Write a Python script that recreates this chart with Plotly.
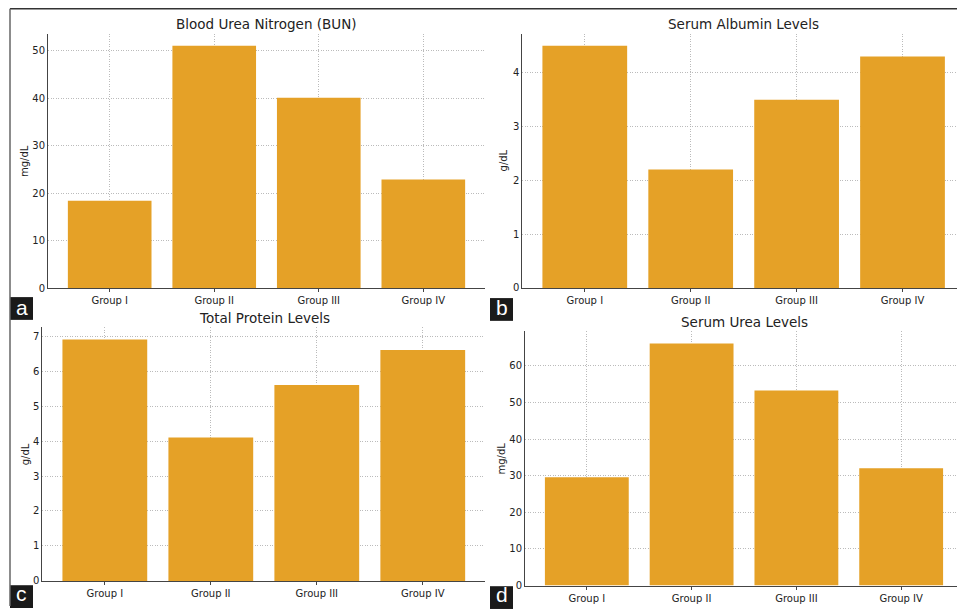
import plotly.graph_objects as go

categories = ["Group I", "Group II", "Group III", "Group IV"]
bun_values = [18.4, 51.0, 40.1, 22.9]
albumin_values = [4.5, 2.2, 3.5, 4.3]
protein_values = [6.9, 4.1, 5.6, 6.6]
urea_values = [29.6, 66.1, 53.3, 32.0]

titles = ["Blood Urea Nitrogen (BUN)", "Serum Albumin Levels", "Total Protein Levels", "Serum Urea Levels"]
ylabels = ["mg/dL", "g/dL", "g/dL", "mg/dL"]
letters = ["a", "b", "c", "d"]
ytick_steps = [10, 1, 1, 10]
series = [bun_values, albumin_values, protein_values, urea_values]

W, H = 965, 612
OFF = 8  # default page body margin offsets the figure
FW, FH = W - OFF, H - OFF
BAR = "#E5A127"
FONT = "DejaVu Sans"

# pixel boxes (in page coordinates) for each axes: (left, right, top, bottom)
boxes = [(48, 485, 34, 291), (522.3, 965, 34, 290.7), (42.3, 485.3, 330.7, 586.7), (525, 963, 334.7, 591.3)]
title_pos = [(266.5, 24), (743.5, 24), (264, 321), (744, 325)]
ylabel_pos = [(25, 162.5), (503, 162), (25, 458.7), (501, 463)]
letter_boxes = [(10, 300), (490, 301), (10, 591), (490, 592)]

def px(x):
    return (x - OFF) / FW

def py(y):
    return 1 - (y - OFF) / FH

fig = go.Figure()
layout = dict(
    width=FW, height=FH, margin=dict(l=0, r=0, t=0, b=0),
    paper_bgcolor="white", plot_bgcolor="white", showlegend=False,
    font=dict(family=FONT, size=10, color="#222"),
)
annotations = []
shapes = []
for i in range(4):
    n = "" if i == 0 else str(i + 1)
    xa, ya = "x" + n, "y" + n
    fig.add_trace(go.Bar(x=categories, y=series[i], xaxis=xa, yaxis=ya,
                         marker=dict(color=BAR, line=dict(width=0)), width=0.8))
    l, r, t, b = boxes[i]
    grid = dict(showgrid=True, gridcolor="rgba(170,170,170,0.8)", griddash="1px,1.5px", gridwidth=1)
    layout["xaxis" + n] = dict(domain=[px(l), min(px(r), 1)], anchor=ya, type="category",
                               range=[-0.59, 3.59], showline=True, linecolor="#444", linewidth=1,
                               ticks="outside", ticklen=3, tickcolor="#444", zeroline=False,
                               layer="above traces", tickfont=dict(family=FONT, size=10, color="#222"), **grid)
    ymax = max(series[i]) * 1.05
    layout["yaxis" + n] = dict(domain=[py(b), py(t)], anchor=xa, range=[0, ymax],
                               dtick=ytick_steps[i], tick0=0, showline=True, linecolor="#444", linewidth=1,
                               ticks="", zeroline=False, layer="above traces",
                               tickfont=dict(family=FONT, size=10, color="#222"), **grid)
    tx, ty = title_pos[i]
    annotations.append(dict(text=titles[i], x=px(tx), y=py(ty), xref="paper", yref="paper",
                            showarrow=False, xanchor="center", yanchor="middle",
                            font=dict(family=FONT, size=13.5, color="#222")))
    lx, ly = ylabel_pos[i]
    annotations.append(dict(text=ylabels[i], x=px(lx), y=py(ly), xref="paper", yref="paper",
                            showarrow=False, xanchor="center", yanchor="middle", textangle=-90,
                            font=dict(family=FONT, size=10, color="#222")))
    bx, by = letter_boxes[i]
    shapes.append(dict(type="rect", xref="paper", yref="paper", x0=px(bx), x1=px(bx + 23),
                       y0=py(by + 23), y1=py(by), fillcolor="#1a1a1a", line=dict(width=0)))
    cy = by + 10 if i < 2 else by + 8.5
    annotations.append(dict(text=letters[i], x=px(bx + 11.5), y=py(cy), xref="paper", yref="paper",
                            showarrow=False, xanchor="center", yanchor="middle",
                            font=dict(family="Liberation Sans", size=21, color="white")))

# outer frame
shapes.append(dict(type="line", xref="paper", yref="paper", x0=px(10), x1=1, y0=py(8.8), y1=py(8.8),
                   line=dict(color="#333", width=1.5)))
shapes.append(dict(type="line", xref="paper", yref="paper", x0=px(10), x1=px(10), y0=py(8.8), y1=0,
                   line=dict(color="#666", width=1.5)))

layout["annotations"] = annotations
layout["shapes"] = shapes
fig.update_layout(**layout)
fig.write_html("out.html")
